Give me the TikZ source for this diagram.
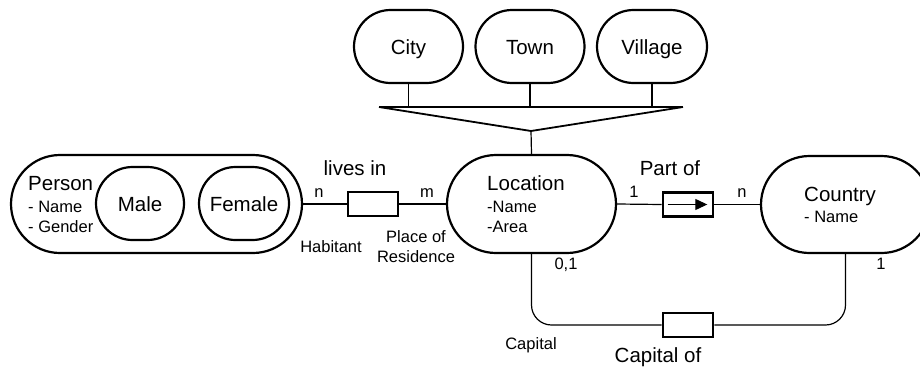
\documentclass[tikz,border=0pt]{standalone}
\usepackage{fontspec}
\setmainfont{Liberation Sans}
\usetikzlibrary{shapes.misc,arrows.meta}
\begin{document}
\begin{tikzpicture}[x=1pt,y=-1pt,
  big/.style={font=\fontsize{20.5}{24}\selectfont},
  small/.style={font=\fontsize{16.5}{20}\selectfont},
  entity/.style={draw,rounded rectangle,line width=2.2pt,inner sep=0pt},
  relbox/.style={draw,rectangle,line width=2.6pt,minimum width=50pt,minimum height=24pt,inner sep=0pt},
  conn/.style={line width=1.2pt},
  lbl/.style={inner sep=0pt,anchor=base}]
\useasboundingbox (0,0) rectangle (920,367);
\clip (0,0) rectangle (920,367);

% entity shapes
\node[entity,minimum width=291pt,minimum height=98pt] (person) at (156.5,204) {};
\node[entity,minimum width=88pt,minimum height=73pt] (male) at (140,203.5) {};
\node[entity,minimum width=90pt,minimum height=73pt] (female) at (244,203.5) {};
\node[entity,minimum width=169pt,minimum height=98pt] (loc) at (531.5,204) {};
\node[entity,minimum width=169pt,minimum height=97pt] (country) at (845.5,204.5) {};
\node[entity,minimum width=109pt,minimum height=73pt] (city) at (408.5,46.5) {};
\node[entity,minimum width=109pt,minimum height=73pt] (town) at (530,46.5) {};
\node[entity,minimum width=110pt,minimum height=73pt] (village) at (652,46.5) {};

% entity names, set on a common baseline
\node[lbl,big] (malet) at (male |- 0,211) {Male};
\node[lbl,big] (femalet) at (female |- 0,211) {Female};
\node[lbl,big] (cityt) at (city |- 0,54) {City};
\node[lbl,big] (townt) at (town |- 0,54) {Town};
\node[lbl,big] (villaget) at (village |- 0,54) {Village};

% attribute texts
\node[lbl,anchor=base west,big] (ptitle) at (28,190) {Person};
\node[lbl,anchor=base west,small] (pname) at (28,212) {- Name};
\node[lbl,anchor=base west,small] (pgender) at (28,232.5) {- Gender};
\node[lbl,anchor=base west,big] (ltitle) at (487,190) {Location};
\node[lbl,anchor=base west,small] (lname) at (487,212) {-Name};
\node[lbl,anchor=base west,small] (larea) at (487,232.5) {-Area};
\node[lbl,anchor=base west,big] (ctitle) at (804,201) {Country};
\node[lbl,anchor=base west,small] (cname) at (804,222) {- Name};

% relationship boxes
\node[relbox] (lives) at (373,204) {};
\node[relbox] (partof) at (688,204.5) {};
\node[relbox] (capof) at (688,325) {};

% connectors
\draw[conn] (person.east) -- (lives.west);
\draw[conn] (lives.east) -- (loc.west);
\draw[conn] (loc.east) -- (partof.west);
\draw[conn] (partof.east) -- (country.west);
\draw[conn,-{Triangle[length=12pt,width=11pt]}] ([xshift=6pt]partof.west) -- ([xshift=-7pt]partof.east);
\draw[conn,rounded corners=20pt] (loc.south) |- (capof.west);
\draw[conn,rounded corners=20pt] (capof.east) -| (country.south);

% generalization
\coordinate (barL) at (379,107);
\coordinate (barR) at (683,107);
\coordinate (apex) at (531,131);
\draw[line width=2.6pt] (barL) -- (barR);
\draw[line width=1.8pt,line join=miter] (barL) -- (apex) -- (barR);
\draw[conn] (city.south) -- (city.south |- barL);
\draw[conn] (town.south) -- (town.south |- barL);
\draw[conn] (village.south) -- (village.south |- barL);
\draw[conn] (apex) -- (loc.north);

% labels
\node[lbl,big] (livesl) at (355,175) {lives in};
\node[lbl,big] (partl) at (670,175) {Part of};
\node[lbl,big] (capl) at (658,362) {Capital of};
\node[lbl,small] (card1) at (319,197) {n};
\node[lbl,small] (card2) at (427,197) {m};
\node[lbl,small] (card3) at (634,197) {1};
\node[lbl,small] (card4) at (742,197) {n};
\node[lbl,small] (card5) at (566,269) {0,1};
\node[lbl,small] (card6) at (881,269) {1};
\node[lbl,small] (role1) at (331,252) {Habitant};
\node[lbl,small] (role2) at (416,242) {Place of};
\node[lbl,small] (role3) at (416,262) {Residence};
\node[lbl,small] (role4) at (531,349) {Capital};
\end{tikzpicture}
\end{document}
